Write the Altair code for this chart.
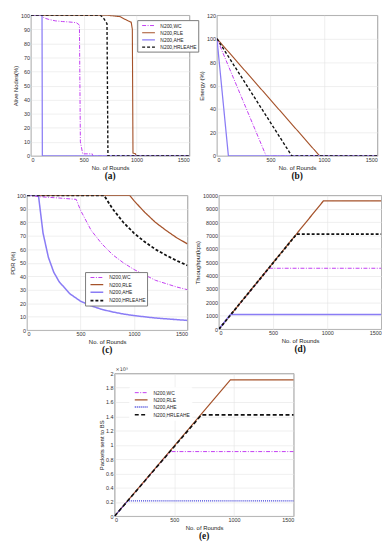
import altair as alt
import pandas as pd

SERIES = ["N200,WC", "N200,RLE", "N200,AHE", "N200,HRLEAHE"]

# (a) Alive nodes (%)
a_wc_x = [0, 100, 125, 170, 230, 300, 360, 430, 459, 468, 490, 580, 585, 1500]
a_wc_y = [100, 100, 98, 97, 96, 95.5, 95.2, 94.7, 93, 10, 1.5, 1.5, 0, 0]
a_rle_x = [0, 720, 842, 880, 920, 949, 960, 966, 990, 995, 1500]
a_rle_y = [100, 100, 99, 97.5, 96, 95, 90, 2, 1.5, 0, 0]
a_ahe_x = [0, 105, 108, 1500]
a_ahe_y = [100, 100, 0, 0]
a_hr_x = [0, 658, 689, 720, 729, 1500]
a_hr_y = [100, 100, 97.7, 94, 0, 0]

# (b) Energy (%)
b_wc_x = [0, 460, 1500]
b_wc_y = [100, 0, 0]
b_rle_x = [0, 960, 1500]
b_rle_y = [100, 0, 0]
b_ahe_x = [0, 107, 1500]
b_ahe_y = [100, 0, 0]
b_hr_x = [0, 700, 1500]
b_hr_y = [100, 0, 0]

# (c) PDR (%)
c_wc_x = [0, 110, 300, 460, 500, 600, 700, 800, 900, 1000, 1100, 1200, 1300, 1400, 1500]
c_wc_y = [100, 99, 98, 97, 89, 74, 64, 56, 50, 45, 41, 37, 34.5, 32, 30]
c_rle_x = [0, 960, 1000, 1100, 1200, 1300, 1400, 1500]
c_rle_y = [100, 100, 96, 87.5, 80, 74, 68.5, 64]
c_ahe_x = [0, 107, 150, 200, 250, 300, 400, 500, 600, 700, 800, 900, 1000, 1200, 1500]
c_ahe_y = [100, 100, 72, 54, 43, 36, 27, 21.5, 18, 15.4, 13.5, 12, 10.8, 9, 7.2]
c_hr_x = [0, 720, 800, 900, 1000, 1100, 1200, 1300, 1400, 1500]
c_hr_y = [100, 100, 90, 80, 72, 65.5, 60, 55.5, 51.5, 48]

# (d) Throughput
d_wc_x = [0, 465, 1500]
d_wc_y = [0, 4550, 4550]
d_rle_x = [0, 965, 1500]
d_rle_y = [0, 9580, 9580]
d_ahe_x = [0, 107, 1500]
d_ahe_y = [0, 1100, 1100]
d_hr_x = [0, 718, 1500]
d_hr_y = [0, 7100, 7100]

# (e) Packets sent to BS (x10^5)
e_wc_x = [0, 466, 1500]
e_wc_y = [0, 0.905, 0.905]
e_rle_x = [0, 970, 1500]
e_rle_y = [0, 1.91, 1.91]
e_ahe_x = [0, 110, 1500]
e_ahe_y = [0, 0.215, 0.215]
e_hr_x = [0, 728, 1500]
e_hr_y = [0, 1.42, 1.42]

X_TICKS = [0, 500, 1000, 1500]
FONT = "Liberation Sans"


def long_df(pairs):
    rows = []
    for name, (xs, ys) in zip(SERIES, pairs):
        for i, (x, y) in enumerate(zip(xs, ys)):
            rows.append({"series": name, "x": x, "y": y, "i": i})
    return pd.DataFrame(rows)


def panel(df, ydom, yticks, ytitle, label, legx, legy, w, h, colors, dashes,
          widths, legend_stroke="#7a7a7a", yfmt="d", extra=None):
    legend = alt.Legend(
        orient="none", legendX=legx, legendY=legy, title=None,
        symbolType="M-2,0H2", symbolSize=42, symbolOffset=6,
        labelFontSize=5, labelFont=FONT,
        labelColor="#222", rowPadding=0.3, padding=1.5,
        strokeColor=legend_stroke, fillColor="white", labelOffset=8,
        labelLimit=80,
    )
    enc_color = alt.Color("series:N", scale=alt.Scale(domain=SERIES, range=colors),
                          legend=legend, sort=SERIES)
    enc_dash = alt.StrokeDash("series:N", scale=alt.Scale(domain=SERIES, range=dashes),
                              legend=legend, sort=SERIES)
    enc_w = alt.StrokeWidth("series:N", scale=alt.Scale(domain=SERIES, range=widths),
                            legend=legend, sort=SERIES)
    base = alt.Chart(df).mark_line(clip=True).encode(
        x=alt.X("x:Q", scale=alt.Scale(domain=[0, 1500], nice=False),
                axis=alt.Axis(values=X_TICKS, title="No. of Rounds", format="d")),
        y=alt.Y("y:Q", scale=alt.Scale(domain=ydom, nice=False),
                axis=alt.Axis(values=yticks, title=ytitle, format=yfmt)),
        color=enc_color, strokeDash=enc_dash, strokeWidth=enc_w,
        order="i:Q",
    )
    ch = base
    if extra is not None:
        ch = alt.layer(base, extra)
    return ch.properties(
        width=w, height=h,
        title=alt.TitleParams(label, orient="bottom", font="Liberation Serif",
                              fontWeight="bold", fontSize=9.5, offset=1, color="#111"),
    )


C4 = ["#c23cf2", "#a5522a", "#8a7cf5", "#111111"]
D4 = [[4, 1.5, 1, 1.5], [1, 0], [1, 0], [3, 2]]
W4 = [1.0, 1.4, 1.0, 1.5]

pa = panel(long_df([(a_wc_x, a_wc_y), (a_rle_x, a_rle_y), (a_ahe_x, a_ahe_y), (a_hr_x, a_hr_y)]),
           [0, 100], list(range(0, 101, 10)), "Alive Nodes(%)", "(a)", 108, 5, 161, 143,
           C4, D4, W4)
pb = panel(long_df([(b_wc_x, b_wc_y), (b_rle_x, b_rle_y), (b_ahe_x, b_ahe_y), (b_hr_x, b_hr_y)]),
           [0, 120], list(range(0, 121, 20)), "Energy (%)", "(b)", 102, 4, 163, 143,
           C4, D4, W4)
pc = panel(long_df([(c_wc_x, c_wc_y), (c_rle_x, c_rle_y), (c_ahe_x, c_ahe_y), (c_hr_x, c_hr_y)]),
           [0, 100], list(range(0, 101, 10)), "PDR (%)", "(c)", 59, 78, 163, 137,
           C4, D4, [1.0, 1.8, 1.0, 1.6])
pd_ = panel(long_df([(d_wc_x, d_wc_y), (d_rle_x, d_rle_y), (d_ahe_x, d_ahe_y), (d_hr_x, d_hr_y)]),
            [0, 10000], list(range(0, 10001, 1000)), "Throughput(kps)", "(d)", 104, 43, 165, 136,
            C4, D4, [1.0, 1.4, 1.0, 1.5])

exp_text = alt.Chart(alt.Data(values=[{"t": "×10⁵"}])).mark_text(
    align="left", baseline="bottom", fontSize=5, font="DejaVu Sans", color="#333"
).encode(text="t:N", x=alt.value(1), y=alt.value(-1))

pe = panel(long_df([(e_wc_x, e_wc_y), (e_rle_x, e_rle_y), (e_ahe_x, e_ahe_y), (e_hr_x, e_hr_y)]),
           [0, 2], [round(v * 0.2, 1) for v in range(11)], "Packets sent to BS", "(e)", 15, 14, 182, 145,
           ["#c23cf2", "#a5522a", "#3a3ad8", "#111111"],
           [[4, 1.5, 1, 1.5], [1, 0], [1, 1], [4, 2.5]], [1.0, 1.6, 1.2, 1.6],
           legend_stroke="white", yfmt="~g", extra=exp_text)

row1 = alt.hconcat(pa, pb, spacing=8)
row2 = alt.hconcat(pc, pd_, spacing=6)
chart = alt.vconcat(row1, row2, pe, spacing=11, center=True).resolve_scale(
    color="independent", strokeDash="independent", strokeWidth="independent", x="independent", y="independent"
).resolve_legend(color="independent", strokeDash="independent", strokeWidth="independent").configure_view(
    stroke="#666", strokeWidth=0.8
).configure_axis(
    labelFont=FONT, labelFontSize=5.5, labelColor="#333", titleFont=FONT, titleFontSize=6,
    titleFontWeight="normal", titleColor="#222", ticks=False, labelPadding=1.5, titlePadding=1.5,
    domain=False, gridColor="#e3e3e3", gridWidth=0.6
).properties(padding={"left": 0, "top": 0, "right": 0, "bottom": 0}, background="white")

chart.save("out.html", embed_options={"renderer": "svg", "actions": False})
